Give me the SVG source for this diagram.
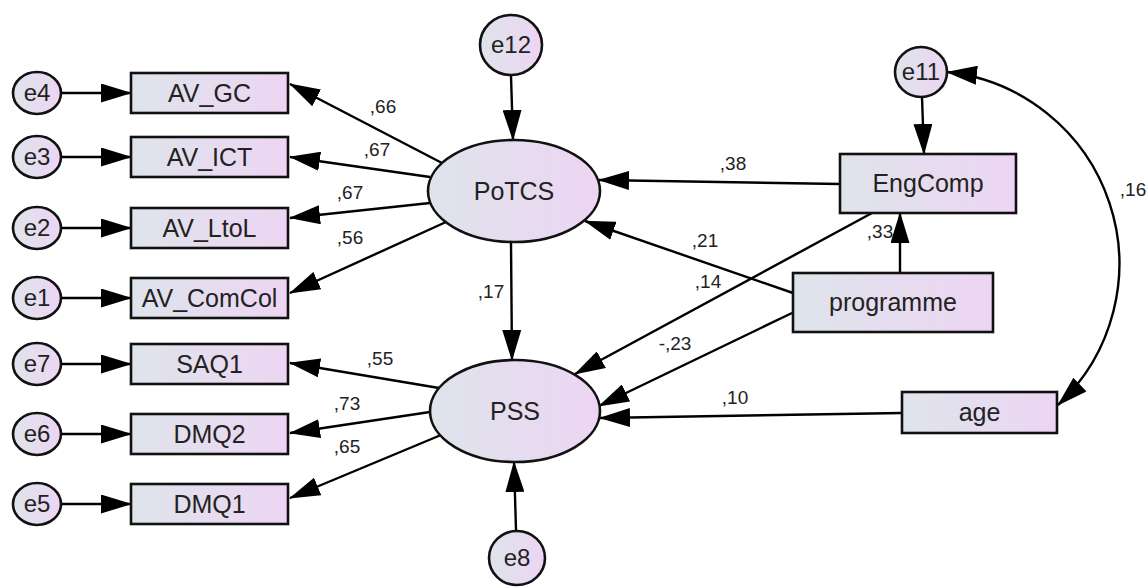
<svg xmlns="http://www.w3.org/2000/svg" width="1148" height="588" viewBox="0 0 1148 588">
<defs>
<linearGradient id="g" x1="0" y1="0" x2="1" y2="0">
<stop offset="0" stop-color="#dee4eb"/>
<stop offset="1" stop-color="#edd5f3"/>
</linearGradient>
<marker id="ah" markerUnits="userSpaceOnUse" markerWidth="31" markerHeight="19" refX="30" refY="9.5" orient="auto-start-reverse" viewBox="0 0 31 19">
<path d="M0,0 L31,9.5 L0,19 z" fill="#000"/>
</marker>
<style>
.n{fill:url(#g);stroke:#111;stroke-width:2.6}
.t{font-family:"Liberation Sans",Arial,sans-serif;font-size:25px;fill:#222;text-anchor:middle}
.te{font-family:"Liberation Sans",Arial,sans-serif;font-size:24px;fill:#222;text-anchor:middle}
.l{font-family:"Liberation Sans",Arial,sans-serif;font-size:19px;fill:#222;text-anchor:middle}
.c{stroke:#000;stroke-width:2.4;fill:none;marker-end:url(#ah)}
</style>
</defs>
<rect width="1148" height="588" fill="#fff"/>
<g id="connectors">
<line class="c" x1="61" y1="93" x2="131" y2="93"/>
<line class="c" x1="61" y1="157" x2="131" y2="157"/>
<line class="c" x1="61" y1="228" x2="131" y2="228"/>
<line class="c" x1="61" y1="298" x2="131" y2="298"/>
<line class="c" x1="61" y1="364" x2="131" y2="364"/>
<line class="c" x1="61" y1="434" x2="131" y2="434"/>
<line class="c" x1="61" y1="504" x2="131" y2="504"/>
<line class="c" x1="442" y1="163" x2="290" y2="84"/>
<line class="c" x1="430" y1="177" x2="290" y2="157"/>
<line class="c" x1="430" y1="203" x2="290" y2="218"/>
<line class="c" x1="446" y1="222" x2="290" y2="293"/>
<line class="c" x1="439" y1="388" x2="290" y2="363"/>
<line class="c" x1="430" y1="412" x2="290" y2="433"/>
<line class="c" x1="441" y1="435" x2="290" y2="498"/>
<line class="c" x1="511" y1="76" x2="513" y2="140"/>
<line class="c" x1="511" y1="242" x2="512" y2="360"/>
<line class="c" x1="516" y1="530" x2="514" y2="462"/>
<line class="c" x1="922" y1="97" x2="924" y2="154"/>
<line class="c" x1="900" y1="273" x2="900" y2="213"/>
<line class="c" x1="840" y1="184" x2="599" y2="180"/>
<line class="c" x1="793" y1="293" x2="585" y2="221"/>
<line class="c" x1="872" y1="213" x2="575" y2="374"/>
<line class="c" x1="792" y1="313" x2="599" y2="406"/>
<line class="c" x1="902" y1="413" x2="600" y2="418"/>
<path class="c" style="marker-start:url(#ah)" d="M947,72 A193,193 0 0 1 1058,405"/>
</g>
<g id="labels">
<text class="l" x="383" y="113">,66</text>
<text class="l" x="377" y="156">,67</text>
<text class="l" x="350" y="199">,67</text>
<text class="l" x="350" y="244">,56</text>
<text class="l" x="491" y="298">,17</text>
<text class="l" x="380" y="365">,55</text>
<text class="l" x="347" y="410">,73</text>
<text class="l" x="347" y="453">,65</text>
<text class="l" x="733" y="170">,38</text>
<text class="l" x="705" y="247">,21</text>
<text class="l" x="708" y="288">,14</text>
<text class="l" x="880" y="238">,33</text>
<text class="l" x="675" y="350">-,23</text>
<text class="l" x="735" y="404">,10</text>
<text class="l" x="1133" y="196">,16</text>
</g>
<g id="e4"><ellipse class="n" cx="37" cy="93" rx="24" ry="21"/><text class="te" x="37" y="101">e4</text></g>
<g id="e3"><ellipse class="n" cx="37" cy="157" rx="24" ry="21"/><text class="te" x="37" y="165">e3</text></g>
<g id="e2"><ellipse class="n" cx="37" cy="228" rx="24" ry="21"/><text class="te" x="37" y="236">e2</text></g>
<g id="e1"><ellipse class="n" cx="37" cy="298" rx="24" ry="21"/><text class="te" x="37" y="306">e1</text></g>
<g id="e7"><ellipse class="n" cx="37" cy="364" rx="24" ry="21"/><text class="te" x="37" y="372">e7</text></g>
<g id="e6"><ellipse class="n" cx="37" cy="434" rx="24" ry="21"/><text class="te" x="37" y="442">e6</text></g>
<g id="e5"><ellipse class="n" cx="37" cy="504" rx="24" ry="21"/><text class="te" x="37" y="512">e5</text></g>
<g id="AV_GC"><rect class="n" x="131" y="73" width="157" height="40"/><text class="t" x="209.5" y="102">AV_GC</text></g>
<g id="AV_ICT"><rect class="n" x="131" y="137" width="157" height="40"/><text class="t" x="209.5" y="166">AV_ICT</text></g>
<g id="AV_LtoL"><rect class="n" x="131" y="208" width="157" height="40"/><text class="t" x="209.5" y="237">AV_LtoL</text></g>
<g id="AV_ComCol"><rect class="n" x="131" y="278" width="157" height="40"/><text class="t" x="209.5" y="307">AV_ComCol</text></g>
<g id="SAQ1"><rect class="n" x="131" y="344" width="157" height="40"/><text class="t" x="209.5" y="373">SAQ1</text></g>
<g id="DMQ2"><rect class="n" x="131" y="414" width="157" height="40"/><text class="t" x="209.5" y="443">DMQ2</text></g>
<g id="DMQ1"><rect class="n" x="131" y="484" width="157" height="40"/><text class="t" x="209.5" y="513">DMQ1</text></g>
<g id="e12"><ellipse class="n" cx="511" cy="45" rx="31" ry="30"/><text class="te" x="511" y="53">e12</text></g>
<g id="PoTCS"><ellipse class="n" cx="514" cy="191" rx="86" ry="51"/><text class="t" x="514" y="200">PoTCS</text></g>
<g id="PSS"><ellipse class="n" cx="515" cy="411" rx="85" ry="51"/><text class="t" x="515" y="420">PSS</text></g>
<g id="e8"><ellipse class="n" cx="517" cy="558" rx="28" ry="27"/><text class="te" x="517" y="566">e8</text></g>
<g id="e11"><ellipse class="n" cx="921" cy="72" rx="26" ry="25"/><text class="te" x="921" y="80">e11</text></g>
<g id="EngComp"><rect class="n" x="840" y="154" width="176" height="59"/><text class="t" x="928" y="192">EngComp</text></g>
<g id="programme"><rect class="n" x="793" y="273" width="200" height="59"/><text class="t" x="893" y="311">programme</text></g>
<g id="age"><rect class="n" x="902" y="392" width="155" height="41"/><text class="t" x="979.5" y="421">age</text></g>
</svg>
